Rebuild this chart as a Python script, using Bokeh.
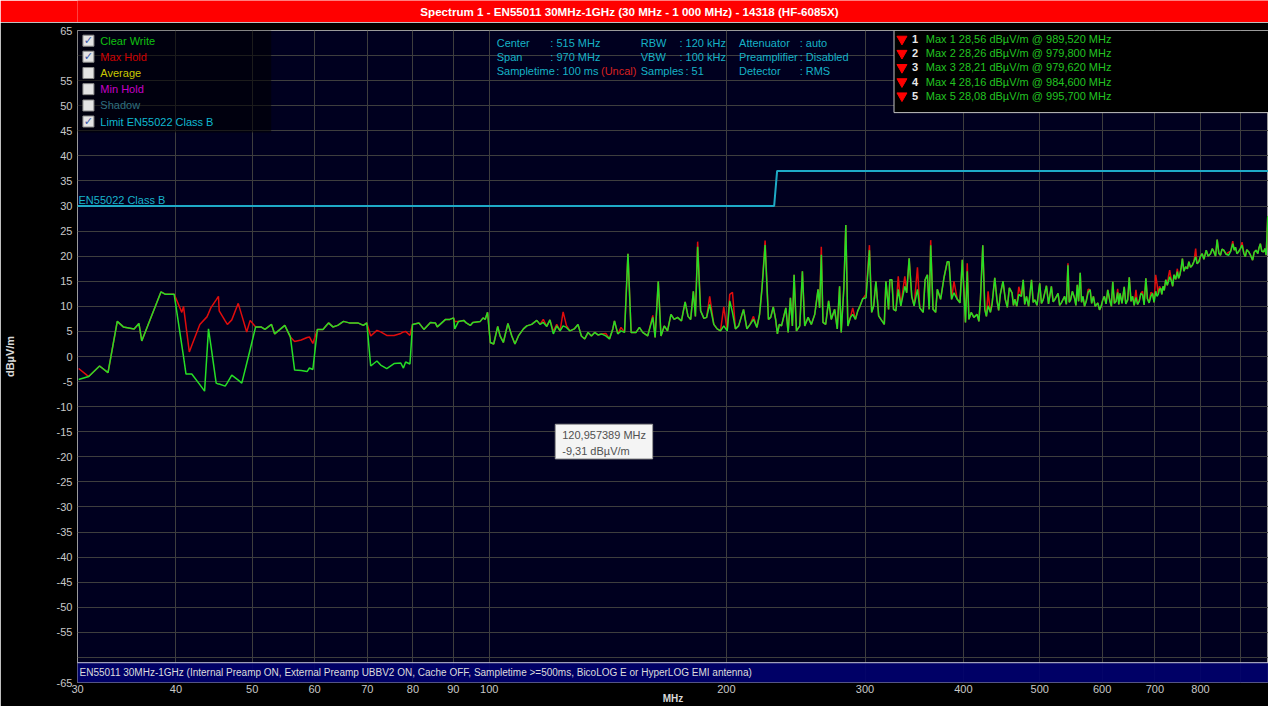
from bokeh.plotting import figure
from bokeh.models import Range1d, FixedTicker, LinearScale, ColumnDataSource
from bokeh.layouts import column
from bokeh.embed import file_html
from bokeh.resources import INLINE
from bokeh.core.properties import value

TITLE = "Spectrum 1 - EN55011 30MHz-1GHz (30 MHz - 1 000 MHz) - 14318 (HF-6085X)"
FOOTER = ("EN55011 30MHz-1GHz (Internal Preamp ON, External Preamp UBBV2 ON, Cache OFF, "
          "Sampletime >=500ms, BicoLOG E or HyperLOG EMI antenna)")

# ---------------- trace data (MHz, dBuV/m) ----------------
freq_a = [30.1, 31.0, 32.0, 32.8, 33.7, 34.3, 35.4, 35.9, 36.2, 38.3,
          38.8, 39.8, 40.7, 40.9, 41.2, 41.6, 41.9, 42.9, 43.5, 43.8,
          44.0, 44.3, 45.0, 45.3, 45.4, 46.2, 46.5, 47.1, 48.0, 48.5,
          49.2, 49.7, 50.5, 51.3, 51.9, 52.9, 53.4, 55.0, 55.9, 56.6,
          57.7, 58.7, 59.1, 59.7, 60.5, 61.5, 62.1, 62.5, 63.3, 64.2,
          65.3, 66.4, 68.1, 69.2, 69.9, 70.7, 72.0, 72.8, 74.1, 75.7,
          77.2, 77.8, 78.3, 79.3, 79.9, 81.4, 82.6, 84.2, 85.4, 85.9,
          88.0, 89.1, 90.1, 90.4, 91.4, 92.8, 93.5, 94.6, 95.3, 97.4,
          98.2, 98.8, 99.5]
clear_write_a = [-4.6, -4.0, -1.9, -3.2, 7.0, 5.9, 5.5, 6.6, 3.1, 12.9,
                 12.4, 12.4, 2.2, 0.0, -3.5, -3.5, -3.5, -5.6, -6.9, 0.5,
                 5.5, 2.3, -5.3, -5.5, -5.5, -5.9, -5.2, -3.7, -4.7, -5.3,
                 -1.4, 1.4, 5.9, 5.9, 5.4, 6.4, 4.5, 6.2, 3.9, -2.7,
                 -2.8, -3.0, -2.3, -2.6, 5.4, 5.4, 6.2, 6.7, 5.9, 6.2,
                 7.0, 6.7, 6.7, 6.2, 6.7, -1.9, -0.9, -1.7, -2.4, -1.4,
                 -1.3, -2.3, -1.1, -1.5, 6.4, 6.7, 5.4, 6.8, 6.7, 5.9,
                 7.4, 7.4, 7.7, 5.5, 7.0, 7.2, 6.7, 6.2, 6.8, 7.0,
                 7.7, 7.4, 8.8]
max_hold_a = [-2.4, -4.0, -1.9, -3.2, 7.0, 5.9, 5.5, 6.6, 3.1, 12.9,
              12.4, 12.4, 8.8, 10.0, 6.1, 0.9, 2.2, 6.4, 7.4, 7.9,
              8.6, 9.7, 11.3, 12.0, 9.1, 7.1, 6.4, 7.3, 10.6, 8.2,
              4.9, 7.2, 5.9, 5.9, 5.4, 6.4, 4.5, 6.2, 3.9, 3.0,
              3.3, 3.8, 3.9, 2.6, 5.4, 5.4, 6.2, 6.7, 5.9, 6.2,
              7.0, 6.7, 6.7, 6.2, 6.7, 4.1, 5.2, 4.9, 4.2, 4.2,
              4.6, 4.9, 5.0, 4.2, 6.4, 6.7, 5.4, 6.8, 6.7, 5.9,
              7.4, 7.4, 7.7, 7.0, 7.0, 7.2, 6.7, 6.2, 6.8, 7.0,
              7.7, 7.4, 8.8]

freq_b = [100.3, 101.3, 102.5, 103.2, 104.2, 105.6, 106.8, 107.8, 108.9, 110.5,
          111.6, 113.2, 114.9, 116.0, 117.1, 118.3, 119.4, 120.6, 121.8, 123.0,
          124.1, 125.3, 126.6, 128.2, 129.6, 130.9, 132.2, 133.5, 134.8, 136.1,
          137.4, 138.8, 140.6, 142.1, 143.5, 144.2, 145.6, 147.0, 148.5, 150.0,
          151.4, 153.6, 155.1, 156.6, 158.9, 161.3, 162.4, 163.9, 165.2, 166.8,
          168.4, 170.1, 171.7, 173.4, 175.4, 177.3, 178.8, 180.2, 181.6, 182.7,
          183.9, 185.5, 187.3, 188.8, 190.5, 192.8, 194.7, 196.6, 198.5, 200.5,
          202.0, 203.6, 205.4, 207.3, 210.3, 212.4, 214.4, 216.5, 218.7, 220.4,
          222.0, 224.0, 226.2, 227.7, 229.4, 231.0, 232.2, 233.5, 235.0, 238.0,
          239.6, 241.2, 242.6, 243.8, 245.5, 247.9, 249.8, 251.5, 254.0, 256.4,
          259.0, 261.5, 262.7, 264.0, 265.3, 267.4, 269.7, 271.8, 274.5, 276.6,
          278.5, 279.8, 282.0, 283.6, 285.3, 287.5, 289.4, 291.7, 293.7, 295.7,
          298.0, 300.9, 303.9, 305.9, 307.7, 309.7, 312.2, 314.3, 317.4, 318.9,
          321.4, 322.6, 324.5, 326.1, 328.3, 330.6, 333.1, 337.0, 338.9, 341.3,
          343.9, 346.3, 349.7, 352.1, 355.6, 357.6, 360.0, 361.9, 363.5, 366.0,
          368.8, 370.6, 374.2, 377.9, 381.6, 383.5, 386.4, 389.1, 392.9, 396.0,
          398.7, 400.7, 402.4]
clear_write_b = [2.8, 2.5, 6.0, 4.1, 2.8, 6.6, 4.1, 2.5, 4.1, 5.5,
                 6.1, 6.4, 7.2, 6.4, 6.8, 6.0, 7.3, 4.5, 6.1, 5.1,
                 6.1, 5.8, 5.1, 5.5, 6.4, 4.1, 3.5, 4.8, 4.1, 4.8,
                 4.3, 4.5, 4.1, 3.5, 5.5, 7.1, 4.5, 5.1, 4.8, 20.5,
                 4.8, 4.8, 5.8, 4.8, 4.1, 7.8, 3.8, 15.0, 4.1, 6.1,
                 5.1, 8.4, 7.4, 7.8, 7.1, 10.9, 8.0, 7.4, 13.0, 8.0,
                 21.9, 9.1, 7.6, 7.8, 10.4, 6.4, 5.5, 5.1, 6.1, 5.1,
                 11.1, 8.8, 5.5, 6.1, 9.4, 5.5, 6.4, 7.4, 5.8, 8.4,
                 13.7, 22.2, 7.4, 7.8, 9.9, 7.4, 4.5, 6.4, 6.1, 9.7,
                 4.8, 11.7, 6.1, 16.3, 5.1, 6.1, 17.0, 6.1, 7.8, 6.4,
                 8.4, 13.4, 9.7, 20.3, 6.8, 6.4, 11.1, 7.4, 9.4, 5.5,
                 14.0, 4.8, 13.7, 26.2, 6.1, 7.8, 8.4, 7.4, 9.1, 10.1,
                 11.5, 11.7, 21.2, 8.8, 10.1, 15.0, 8.1, 7.4, 6.4, 15.0,
                 9.4, 15.3, 15.3, 9.4, 9.1, 13.4, 10.1, 14.0, 12.7, 19.6,
                 12.0, 10.1, 13.4, 9.7, 8.8, 15.3, 16.3, 9.4, 22.2, 9.4,
                 8.8, 13.4, 11.4, 15.7, 18.9, 18.9, 11.4, 12.7, 11.4, 10.7,
                 19.3, 12.4, 6.8]
max_hold_b = [2.8, 2.5, 6.0, 4.1, 2.8, 6.6, 4.1, 2.5, 4.1, 5.5,
              6.1, 6.4, 7.2, 6.4, 7.4, 6.0, 7.3, 5.0, 6.4, 5.1,
              8.9, 6.2, 5.1, 5.5, 6.4, 4.1, 3.5, 4.8, 4.1, 4.8,
              4.3, 4.5, 4.6, 3.5, 5.5, 7.1, 4.5, 5.8, 4.8, 20.5,
              4.8, 4.8, 5.8, 4.8, 4.1, 8.2, 3.8, 15.0, 4.1, 6.1,
              5.1, 8.4, 7.4, 7.8, 7.1, 10.9, 8.0, 7.4, 13.0, 8.0,
              22.9, 9.1, 7.6, 7.8, 12.0, 6.4, 5.5, 5.1, 9.9, 5.1,
              12.4, 12.8, 5.5, 6.1, 9.4, 5.5, 6.4, 8.0, 5.8, 8.4,
              13.7, 23.1, 7.4, 7.8, 9.9, 7.4, 4.5, 6.4, 6.1, 9.7,
              4.8, 11.7, 6.1, 16.3, 5.1, 6.1, 17.0, 6.1, 7.8, 6.4,
              8.4, 13.4, 9.7, 21.9, 6.8, 6.4, 11.1, 7.4, 9.4, 5.5,
              14.0, 4.8, 13.7, 26.2, 6.1, 7.8, 9.7, 7.4, 9.1, 10.1,
              11.5, 12.4, 22.2, 8.8, 10.1, 15.0, 8.1, 7.4, 6.4, 15.0,
              9.4, 15.3, 15.3, 9.4, 9.1, 16.0, 10.1, 16.0, 12.7, 19.6,
              12.0, 10.1, 17.8, 9.7, 8.8, 15.3, 16.3, 9.4, 23.2, 9.4,
              8.8, 13.4, 11.4, 15.7, 18.9, 18.9, 11.4, 15.0, 11.4, 10.7,
              19.3, 13.4, 6.8]

freq_c = [404.5, 406.5, 409.2, 412.4, 416.3, 418.5, 420.4, 423.3, 425.8, 427.8,
          429.9, 432.8, 434.9, 438.4, 441.3, 443.4, 445.6, 449.1, 452.1, 454.8,
          457.5, 461.1, 463.0, 464.8, 467.5, 470.3, 473.9, 476.4, 478.5, 481.0,
          484.0, 488.1, 490.5, 492.8, 496.0, 500.0, 502.5, 505.0, 509.9, 513.0,
          517.3, 520.0, 522.3, 527.5, 530.0, 532.6, 537.7, 540.5, 543.0, 545.0,
          547.2, 550.0, 553.6, 555.8, 558.0, 560.2, 562.8, 565.0, 567.3, 570.0,
          572.8, 576.0, 579.4, 582.0, 584.9, 588.0, 592.5, 595.5, 598.3, 601.0,
          604.0, 607.0, 610.0, 614.0, 616.5, 619.0, 622.0, 625.0, 628.0, 630.0,
          632.3, 636.0, 640.1, 643.0, 646.6, 649.6, 653.0, 656.0, 659.0, 662.4,
          665.5, 668.7, 672.0, 675.4, 678.5, 681.9, 685.0, 688.5, 692.0, 695.2,
          698.5, 701.8, 704.5, 707.0, 709.5, 712.2, 714.5, 717.0, 719.5, 722.7,
          726.0, 728.5, 731.1, 735.0, 737.5, 740.3, 744.0, 747.7, 750.5, 753.0,
          756.0, 758.8, 762.0, 766.0, 770.0, 773.3, 777.0, 781.1, 785.0, 788.8,
          792.0, 796.2, 800.0, 804.0, 808.0, 813.6, 818.0, 823.8, 828.0, 831.8,
          836.0, 840.0, 844.0, 848.1, 852.0, 856.3, 862.0, 868.8, 874.0, 879.1,
          883.0, 886.1, 890.0, 894.4, 899.0, 903.4, 908.0, 912.0, 916.0, 920.8,
          926.0, 931.7, 936.0, 941.0, 946.0, 949.0, 953.0, 957.0, 962.3, 966.0,
          969.3, 973.8, 979.6, 984.6, 989.5, 995.7, 1000.0]
clear_write_c = [17.0, 7.4, 8.8, 7.8, 8.4, 7.0, 11.4, 22.2, 9.4, 8.0,
                 10.1, 8.8, 10.4, 15.7, 11.1, 9.2, 12.4, 15.0, 11.4, 9.8,
                 13.7, 12.7, 10.2, 11.4, 10.0, 12.4, 12.0, 15.3, 10.4, 12.0,
                 10.0, 15.3, 10.8, 11.3, 10.2, 14.6, 10.6, 11.3, 14.1, 10.5,
                 14.0, 10.9, 11.3, 12.6, 10.2, 10.7, 12.0, 10.4, 18.2, 10.8,
                 11.3, 13.0, 11.6, 10.2, 14.3, 11.0, 16.7, 10.8, 12.0, 10.0,
                 11.0, 12.8, 13.3, 10.6, 12.0, 10.0, 10.7, 9.3, 10.0, 11.2,
                 12.0, 10.5, 13.3, 11.0, 10.0, 14.9, 10.6, 11.0, 12.8, 10.4,
                 12.6, 10.6, 13.9, 10.5, 11.3, 15.8, 11.0, 12.0, 10.2, 11.8,
                 10.4, 11.0, 12.6, 12.3, 10.3, 15.6, 11.5, 10.7, 12.0, 12.6,
                 10.8, 13.0, 12.0, 12.4, 13.4, 13.6, 12.4, 14.0, 13.2, 15.3,
                 14.2, 15.0, 15.9, 15.0, 14.0, 16.3, 15.4, 16.9, 15.6, 16.2,
                 17.6, 19.5, 17.0, 17.9, 17.5, 18.9, 17.8, 18.2, 19.0, 19.9,
                 18.5, 18.9, 20.0, 20.5, 19.4, 21.2, 20.0, 20.5, 21.5, 20.9,
                 20.0, 23.3, 20.6, 20.2, 21.4, 21.2, 20.4, 20.2, 21.0, 22.5,
                 21.2, 21.8, 20.5, 20.9, 21.5, 22.2, 20.6, 19.9, 21.3, 20.9,
                 20.2, 19.2, 20.8, 21.2, 20.5, 21.6, 22.5, 21.0, 20.9, 21.5,
                 20.2, 27.8, 28.2, 28.2, 28.6, 28.1, 27.5]
max_hold_c = [18.6, 7.4, 8.8, 7.8, 8.4, 7.0, 11.4, 22.2, 9.4, 8.0,
              13.0, 8.8, 10.4, 15.7, 11.1, 9.2, 12.4, 15.0, 11.4, 9.8,
              13.7, 12.7, 10.2, 11.4, 10.0, 13.9, 12.0, 15.3, 10.4, 12.0,
              10.0, 15.3, 10.8, 11.3, 10.2, 14.6, 10.6, 11.3, 14.1, 10.5,
              14.0, 10.9, 11.3, 12.6, 10.2, 10.7, 12.0, 10.4, 18.6, 10.8,
              11.3, 13.0, 11.6, 10.2, 14.3, 11.0, 16.7, 10.8, 12.0, 10.0,
              11.0, 13.4, 13.3, 10.6, 12.0, 10.0, 10.7, 9.3, 10.0, 11.2,
              12.0, 10.5, 13.3, 11.0, 10.0, 14.9, 10.6, 11.0, 13.5, 10.4,
              12.6, 10.6, 13.9, 10.5, 11.3, 15.8, 11.0, 12.0, 10.2, 13.3,
              10.4, 11.0, 12.6, 13.0, 10.3, 15.6, 11.5, 10.7, 12.8, 12.6,
              10.8, 16.3, 14.5, 12.4, 14.0, 13.6, 12.4, 14.0, 13.2, 15.3,
              14.2, 16.0, 17.2, 15.0, 14.0, 16.3, 15.4, 17.5, 15.6, 16.2,
              17.6, 19.5, 17.0, 17.9, 17.5, 18.9, 17.8, 18.2, 19.0, 21.5,
              18.5, 18.9, 20.0, 20.5, 19.4, 21.2, 20.0, 20.5, 21.5, 20.9,
              20.0, 23.3, 20.6, 20.2, 21.4, 21.2, 20.4, 20.8, 21.0, 23.0,
              21.2, 21.8, 20.5, 20.9, 21.5, 22.8, 20.6, 19.9, 21.3, 20.9,
              20.2, 19.2, 20.8, 21.2, 20.5, 21.6, 22.5, 21.0, 20.9, 21.5,
              20.2, 27.8, 28.2, 28.2, 28.6, 28.1, 27.5]

freq_mhz = freq_a + freq_b + freq_c
clear_write = clear_write_a + clear_write_b + clear_write_c
max_hold = max_hold_a + max_hold_b + max_hold_c

limit_freq = [30, 230, 232, 1000]
limit_level = [30, 30, 37, 37]
limit_name = "EN55022 Class B"

marker_numbers = ["1", "2", "3", "4", "5"]
marker_levels = [28.56, 28.26, 28.21, 28.16, 28.08]
marker_freqs = [989.520, 979.800, 979.620, 984.600, 995.700]

x_ticks = [30, 40, 50, 60, 70, 80, 90, 100, 200, 300, 400, 500, 600, 700, 800, 900, 1000]
x_tick_labels = ["30", "40", "50", "60", "70", "80", "90", "100", "200", "300",
                 "400", "500", "600", "700", "800", "", "1 000"]
y_ticks = [-65, -60, -55, -50, -45, -40, -35, -30, -25, -20, -15, -10, -5, 0,
           5, 10, 15, 20, 25, 30, 35, 40, 45, 50, 55, 60, 65]
y_tick_labels = ["-65", "", "-55", "-50", "-45", "-40", "-35", "-30", "-25", "-20", "-15", "-10", "-5", "0",
                 "5", "10", "15", "20", "25", "30", "35", "40", "45", "50", "55", "", "65"]

legend_names = ["Clear Write", "Max Hold", "Average", "Min Hold", "Shadow", "Limit EN55022 Class B"]
legend_colors = ["#10c010", "#d00000", "#c8c800", "#c800c8", "#2f6f7f", "#10b8d0"]
legend_checked = [True, True, False, False, False, True]

info_texts = ["Center", ": 515 MHz", "RBW", ": 120 kHz", "Attenuator", ": auto",
              "Span", ": 970 MHz", "VBW", ": 100 kHz", "Preamplifier", ": Disabled",
              "Sampletime", ": 100 ms", "(Uncal)", "Samples", ": 51", "Detector", ": RMS"]
tooltip_lines = ["120,957389 MHz", "-9,31 dB\u00b5V/m"]

FONT = "Liberation Sans"
W = 1268

# ---------------- title bar ----------------
tb = figure(width=W, height=22, x_range=Range1d(0, W), y_range=Range1d(0, 22),
            x_axis_location=None, y_axis_location=None, output_backend="svg",
            toolbar_location=None, title=None, min_border=0, min_border_left=0,
            min_border_right=0, min_border_top=0, min_border_bottom=0)
tb.grid.visible = False
tb.background_fill_color = "#ff0000"
tb.border_fill_color = "#ff0000"
tb.outline_line_color = None
tb.text(x=[365], y=[11], text=[TITLE], text_align="left", text_baseline="middle",
        text_color="white", text_font=value(FONT), text_font_style="bold",
        text_font_size="11.6px")

# ---------------- main chart ----------------
p = figure(width=W, height=684, x_axis_type="log", x_range=Range1d(30, 976),
           y_range=Range1d(-65, 65), output_backend="svg", toolbar_location=None,
           min_border_left=77, min_border_right=0, min_border_top=8, min_border_bottom=22)
p.background_fill_color = "#00001f"
p.border_fill_color = "#000000"
p.outline_line_color = "#9a9a9a"
# pixel helper ranges (reference-page pixel coordinates inside the frame)
p.extra_x_ranges = {"px": Range1d(85, 1284)}
p.extra_y_ranges = {"px": Range1d(697, 38)}
p.extra_x_scales = {"px": LinearScale()}
p.extra_y_scales = {"px": LinearScale()}

xt = FixedTicker(ticks=x_ticks, minor_ticks=[])
yt = FixedTicker(ticks=y_ticks, minor_ticks=[])
p.xaxis.ticker = xt
p.yaxis.ticker = yt
p.xgrid.ticker = xt
p.ygrid.ticker = yt
p.xaxis.major_label_overrides = {t: s for t, s in zip(x_ticks, x_tick_labels)}
p.yaxis.major_label_overrides = {t: s for t, s in zip(y_ticks, y_tick_labels)}
for ax in (p.xaxis[0], p.yaxis[0]):
    ax.axis_line_color = None
    ax.major_tick_line_color = None
    ax.minor_tick_line_color = None
    ax.major_tick_out = 0
    ax.major_tick_in = 0
    ax.major_label_text_color = "#c8c8c8"
    ax.major_label_text_font = FONT
    ax.major_label_text_font_size = "11px"
    ax.axis_label_text_font = FONT
    ax.axis_label_text_font_style = "bold"
    ax.axis_label_text_color = "#d8d8d8"
p.xaxis.major_label_standoff = 2
p.xaxis.axis_label = "MHz"
p.xaxis.axis_label_text_font_size = "10px"
p.xaxis.axis_label_standoff = -3
p.yaxis.major_label_standoff = 5
p.yaxis.axis_label = "dB\u00b5V/m"
p.yaxis.axis_label_text_font_size = "11px"
p.yaxis.axis_label_standoff = 38
for g in (p.xgrid[0], p.ygrid[0]):
    g.grid_line_color = "#3e3e3e"
    g.grid_line_width = 1

# traces
src = ColumnDataSource(dict(freq=freq_mhz, cw=clear_write, mh=max_hold))
p.line("freq", "mh", source=src, line_color="#e00c0c", line_width=1.5)
p.line("freq", "cw", source=src, line_color="#26de26", line_width=1.5)
p.line(limit_freq, limit_level, line_color="#1eaac6", line_width=2)

PX = dict(x_range_name="px", y_range_name="px")

# limit label
p.text(x=[86], y=[209], text=[limit_name], text_color="#18b4cc", text_font=value(FONT),
       text_font_size="11px", text_baseline="middle", text_align="left", **PX)

# legend panel
p.quad(left=[85], right=[280], top=[38], bottom=[141], fill_color="#000000",
       fill_alpha=0.55, line_color=None, **PX)
row_y = [48.3, 64.5, 81, 97.3, 113.8, 130]
p.rect(x=[96] * 6, y=row_y, width=11, height=11, width_units="screen", height_units="screen",
       fill_color="#e4e4e4", line_color="#8a8a8a", **PX)
chk_y = [y for y, c in zip(row_y, legend_checked) if c]
p.text(x=[96] * len(chk_y), y=chk_y, text=["\u2713"] * len(chk_y), text_color="#3858a8",
       text_font=value("DejaVu Sans"), text_font_size="11px", text_font_style="bold",
       text_align="center", text_baseline="middle", **PX)
p.text(x=[108] * 6, y=row_y, text=legend_names, text_color=legend_colors,
       text_font=value(FONT), text_font_size="11px", text_baseline="middle",
       text_align="left", **PX)

# measurement info
info_x = [507, 561, 652, 691, 751, 812,
          507, 561, 652, 691, 751, 812,
          507, 567, 612, 652, 697, 751, 812]
info_y = [50.7] * 6 + [65] * 6 + [79.3] * 7
info_c = ["#16b2c6"] * 14 + ["#d82020"] + ["#16b2c6"] * 4
p.text(x=info_x, y=info_y, text=info_texts, text_color=info_c, text_font=value(FONT),
       text_font_size="11px", text_baseline="middle", text_align="left", **PX)

# marker table
p.quad(left=[907], right=[1300], top=[38], bottom=[121], fill_color="#000000",
       line_color="#c4c4c4", line_width=1, **PX)
mk_y = [46.7, 61, 75.3, 89.7, 104]
p.scatter(x=[915] * 5, y=mk_y, marker="inverted_triangle", size=10, fill_color="#ff0000",
          line_color="#ff0000", **PX)
p.text(x=[925] * 5, y=mk_y, text=marker_numbers, text_color="#e8e8e8", text_font=value(FONT),
       text_font_size="11px", text_font_style="bold", text_baseline="middle", **PX)
mk_text = ["Max %s %s dB\u00b5V/m @ %s MHz" % (n, ("%.2f" % l).replace(".", ","),
                                               ("%.3f" % f).replace(".", ","))
           for n, l, f in zip(marker_numbers, marker_levels, marker_freqs)]
p.text(x=[939] * 5, y=mk_y, text=mk_text, text_color="#22c422", text_font=value(FONT),
       text_font_size="11px", text_baseline="middle", **PX)

# tooltip
p.quad(left=[566], right=[664], top=[436], bottom=[471], fill_color="#f4f4f4",
       line_color="#9a9a9a", **PX)
p.text(x=[573, 573], y=[446.5, 463], text=tooltip_lines, text_color="#505050",
       text_font=value(FONT), text_font_size="11px", text_baseline="middle", **PX)

# footer bar
p.quad(left=[80], right=[1300], top=[677], bottom=[698], fill_color="#00006c",
       fill_alpha=0.92, line_color="#c8c8dc", line_width=1, **PX)
p.text(x=[87], y=[687], text=[FOOTER], text_color="#dcdcdc", text_font=value(FONT),
       text_font_size="10px", text_baseline="middle", **PX)

layout = column(tb, p, spacing=0)
open("out.html", "w").write(file_html(layout, INLINE))
